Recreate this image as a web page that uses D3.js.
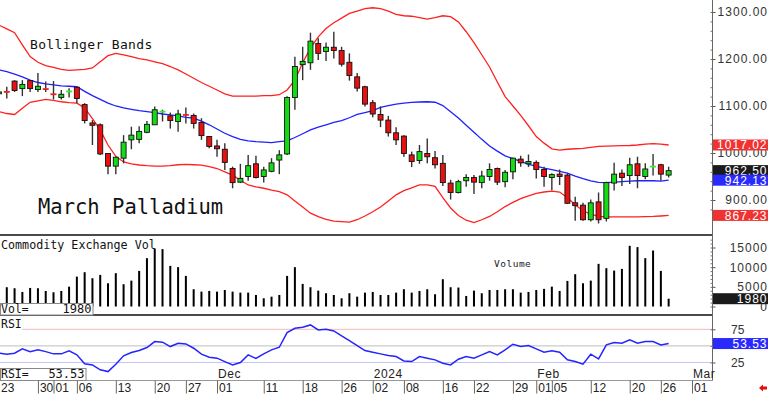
<!DOCTYPE html>
<html>
<head>
<meta charset="utf-8">
<script src="https://cdn.jsdelivr.net/npm/d3@7"></script>
<style>
  body { margin: 0; background: #fff; }
  svg { display: block; font-family: "Liberation Sans", Arial, sans-serif; }
</style>
</head>
<body>
<div id="chart"></div>
<script>
// daily bars, Oct 23 2023 .. Feb 27 2024 (trading-day index 0..86)
const opens = [1126,1131,1153,1137,1154,1135,1137,1126,1118,1130,
  1140,1103,1064,1060,999,972,989,1028,1029,1044,
  1060,1087,1079,1067,1082,1080,1065,1035,1015,1008,
  967,938,950,977,950,961,985,998,1118,1188,
  1192,1233,1216,1225,1218,1193,1162,1141,1107,1082,
  1070,1043,1036,996,984,999,990,978,936,916,
  941,948,937,950,967,939,960,987,977,980,
  965,948,955,953,894,889,858,896,861,936,
  957,952,977,950,970,975,953];
const highs = [1140,1141,1155,1155,1155,1170,1152,1153,1134,1138,
  1141,1106,1070,1063,999,992,1038,1056,1057,1068,
  1099,1092,1086,1092,1097,1084,1074,1036,1028,1021,
  971,977,996,994,971,989,1006,1121,1205,1226,
  1256,1244,1235,1258,1226,1212,1170,1143,1113,1099,
  1079,1055,1038,1003,1017,1031,1004,996,943,943,
  955,953,962,978,969,964,990,994,997,984,
  971,957,965,957,907,894,901,916,939,979,
  965,990,992,978,998,977,971];
const lows = [1113,1116,1130,1121,1130,1130,1130,1114,1114,1118,
  1106,1063,1017,996,955,955,978,1008,1021,1042,
  1060,1067,1052,1045,1063,1052,1028,1010,992,964,
  925,936,941,946,937,959,955,996,1092,1155,
  1177,1198,1196,1201,1184,1154,1131,1099,1076,1055,
  1035,1017,992,970,977,978,967,930,901,914,
  928,913,925,941,932,927,944,971,970,946,
  928,921,932,892,856,856,854,850,854,920,
  930,934,925,944,952,941,948];
const closes = [1130,1130,1133,1146,1137,1142,1136,1125,1125,1131,
  1116,1069,1059,998,972,991,1023,1038,1046,1061,
  1092,1088,1069,1083,1081,1063,1037,1014,1009,980,
  937,946,973,948,964,979,996,1118,1184,1195,
  1238,1212,1225,1218,1189,1165,1138,1104,1083,1070,
  1043,1028,999,982,1003,992,975,937,916,939,
  948,938,951,965,938,959,989,979,982,965,
  950,954,950,893,888,858,894,858,937,955,
  948,975,952,966,971,955,962.50];

const upperBand = [1272,1264,1256,1230,1205,1193,1186,1182,1178,1176,
  1177,1178,1181,1194,1207,1212,1209,1205,1201,1198,
  1194,1190,1184,1177,1168,1159,1150,1142,1134,1126,
  1121,1121,1121,1121,1122,1122,1124,1134,1155,1192,
  1223,1247,1265,1277,1287,1297,1302,1307,1309,1307,
  1302,1295,1292,1291,1288,1285,1288,1292,1290,1279,
  1258,1235,1209,1183,1151,1120,1100,1080,1058,1035,
  1021,1009,1006,1008,1009,1010,1012,1014,1014.5,1015,
  1015.6,1016,1017,1019,1020,1019,1017.02];
const middleBand = [1177,1173,1168,1162,1155,1150,1147,1145,1143,1142,
  1141,1131,1122,1114,1106,1100,1096,1093,1090,1088,
  1086,1083,1081,1079,1076,1074,1068,1060,1051,1042,
  1035,1029,1026,1024,1023,1022,1024,1026,1033,1041,
  1049,1055,1060,1065,1069,1075,1082,1086,1090,1097,
  1101,1104,1106,1107.5,1108.5,1109,1108,1101,1088,1074.5,
  1059,1044,1029,1015,1004,994,988,982,976,972,
  968,964.5,961,957,951,945.5,940.5,937.5,937,938,
  939,940,941,941,941,940,942.13];
const lowerBand = [1088,1084,1082,1095,1108,1111,1114,1112,1109,1107,
  1106,1096,1073,1049,1017,993,981,977,974.5,973,
  972,972,973,975,976,975,974,971,967,960,
  953,942,932,928,925,921,918,911,898,885,
  872,864.5,859,855,854,853,858,866,875,885,
  898,911,920,926,932,932,929,905,883,867,
  857,852,858,865,875,886,895,903,909,914,
  917,919,917,905,890,877,870,865,864,864,
  864,864,864,864.5,865,866,867.23];

const volumes = [4500,4900,4640,3700,4720,4640,3950,3620,3950,5050,
  7600,8720,7190,8030,5900,8470,5660,6580,9050,12290,
  14740,14590,10330,10000,7780,4390,3780,3950,3780,4200,
  3780,3530,3530,2930,2090,2500,2930,7780,10000,5740,
  4900,4030,3370,2930,2090,3370,2500,3530,3700,2930,
  2930,3530,4390,3530,3950,4390,3110,6940,4900,4820,
  2680,4030,3370,4200,4200,4390,4390,3530,3700,4200,
  4480,5050,3950,6500,8210,5900,6580,10840,9740,9130,
  9560,15430,15100,12290,14230,9050,1980];

const rsiValues = [39,37.5,39,45.5,41.4,44,41.4,38,38,42.5,
  36.5,23,21.4,14,11.3,22.4,35,40,43,47.5,
  56.5,55.6,49,54,53,46.5,37.5,33,31.5,26.4,
  21.4,25,36.5,31,38,44,48,70,76.6,78,
  81.6,74,75,72.6,65,58,50.5,43,40.5,38,
  35.4,34,27.4,26.4,34,31.5,29,24,21.4,30,
  34,31.5,36.5,41.4,36.5,44,52.5,49,50.5,45.5,
  40.5,42.5,40.5,29,26.4,22.4,37.5,30.4,51.5,55,
  54,59,54,56.5,56.5,51.5,53.53];

const dayTickIndex = [0,5,7,10,15,20,24,28,34,39,44,48,52,57,61,66,69,71,76,81,85,89];
const dayTickLabels = ['23','30','01','06','13','20','27','01','11','18','26','02','08','16','22','29','01','05','12','20','26','01'];
const monthTickIndex = [28,48,69,89];
const monthTickLabels = ['Dec','2024','Feb','Mar'];
const priceTicks = [900,1000,1100,1200,1300];
const volumeTicks = [0,5000,10000,15000];
const rsiTicks = [25,75];

const width = 768, height = 397;
const axisX = 712.5;
const mono = '"DejaVu Sans Mono", monospace';

const svg = d3.select('#chart').append('svg')
  .attr('width', width)
  .attr('height', height);

const x = d3.scaleLinear().domain([0, 89]).range([-1, 692]);
const y = d3.scaleLinear().domain([900, 1300]).range([200, 12]);
const yVol = d3.scaleLinear().domain([0, 15000]).range([306.5, 247.5]);
const yRsi = d3.scaleLinear().domain([25, 75]).range([362.5, 329.3]);

const defs = svg.append('defs');
[['clipMain', 0, 234], ['clipVol', 236, 314], ['clipRsi', 316, 380]].forEach(c => {
  defs.append('clipPath').attr('id', c[0])
    .append('rect').attr('x', 0).attr('y', c[1]).attr('width', axisX).attr('height', c[2] - c[1]);
});

// ---- price panel
const main = svg.append('g').attr('clip-path', 'url(#clipMain)');

const line = d3.line().x((d, i) => x(i));
const bands = [[upperBand, '#ff2020'], [middleBand, '#2020ff'], [lowerBand, '#ff2020']];
bands.forEach(b => {
  main.append('path')
    .attr('d', line.y(d => y(d))(b[0]))
    .attr('fill', 'none')
    .attr('stroke', b[1])
    .attr('stroke-width', 1.3);
});

const idx = d3.range(opens.length);
const candle = main.selectAll('.candle')
  .data(idx)
  .join('g')
  .classed('candle', true);

candle.append('line')
  .attr('x1', i => x(i)).attr('x2', i => x(i))
  .attr('y1', i => y(highs[i])).attr('y2', i => y(lows[i]))
  .attr('stroke', '#333')
  .attr('stroke-width', 1.4);

const isDoji = i => Math.abs(y(opens[i]) - y(closes[i])) < 1.5;

candle.filter(i => !isDoji(i)).append('rect')
  .attr('x', i => x(i) - 2.5)
  .attr('y', i => y(Math.max(opens[i], closes[i])))
  .attr('width', 5)
  .attr('height', i => Math.abs(y(opens[i]) - y(closes[i])))
  .attr('fill', i => closes[i] >= opens[i] ? '#14dc14' : '#e81010')
  .attr('stroke', '#111')
  .attr('stroke-width', 0.9);

candle.filter(isDoji).append('line')
  .attr('x1', i => x(i) - 3).attr('x2', i => x(i) + 3)
  .attr('y1', i => y(closes[i])).attr('y2', i => y(closes[i]))
  .attr('stroke', i => closes[i] >= opens[i] ? '#30f030' : '#f02020')
  .attr('stroke-width', 1.8);

svg.append('text')
  .attr('x', 30).attr('y', 48.5)
  .style('font-family', mono).style('font-size', '13px').style('letter-spacing', '0.35px')
  .attr('fill', '#111')
  .text('Bollinger Bands');

svg.append('text')
  .attr('x', 38).attr('y', 214)
  .style('font-family', mono).style('font-size', '20.5px')
  .attr('fill', '#111')
  .text('March Palladium');

// ---- volume panel
const vol = svg.append('g').attr('clip-path', 'url(#clipVol)');
vol.selectAll('rect')
  .data(volumes)
  .join('rect')
  .attr('x', (d, i) => x(i) - 1)
  .attr('y', d => yVol(d))
  .attr('width', 2)
  .attr('height', d => yVol(0) - yVol(d))
  .attr('fill', '#000');

svg.append('text')
  .attr('x', 1).attr('y', 248.5)
  .style('font-family', mono).style('font-size', '11.7px')
  .attr('fill', '#111')
  .text('Commodity Exchange Vol');

svg.append('text')
  .attr('x', 494).attr('y', 267)
  .style('font-family', mono).style('font-size', '9.5px').style('letter-spacing', '0.5px')
  .attr('fill', '#222')
  .text('Volume');

// ---- RSI panel
const rsi = svg.append('g').attr('clip-path', 'url(#clipRsi)');
rsi.append('line').attr('x1', 22).attr('x2', axisX).attr('y1', yRsi(75)).attr('y2', yRsi(75))
  .attr('stroke', '#f6b8b8').attr('stroke-width', 1);
rsi.append('line').attr('x1', 0).attr('x2', axisX).attr('y1', yRsi(50)).attr('y2', yRsi(50))
  .attr('stroke', '#bdbdbd').attr('stroke-width', 1);
rsi.append('line').attr('x1', 0).attr('x2', axisX).attr('y1', yRsi(25)).attr('y2', yRsi(25))
  .attr('stroke', '#c4c4f6').attr('stroke-width', 1);

rsi.append('path')
  .attr('d', line.y(d => yRsi(d))(rsiValues))
  .attr('fill', 'none')
  .attr('stroke', '#2424ff')
  .attr('stroke-width', 1.5);

svg.append('text')
  .attr('x', 1).attr('y', 327.5)
  .style('font-family', mono).style('font-size', '11.5px')
  .attr('fill', '#111')
  .text('RSI');

// ---- panel separators and frame
[235, 315].forEach(yy => {
  svg.append('line').attr('x1', 0).attr('x2', axisX).attr('y1', yy).attr('y2', yy)
    .attr('stroke', '#4a4a4a').attr('stroke-width', 2);
});
svg.append('line').attr('x1', 0).attr('x2', axisX).attr('y1', 380.5).attr('y2', 380.5)
  .attr('stroke', '#999').attr('stroke-width', 1);
svg.append('line').attr('x1', axisX).attr('x2', axisX).attr('y1', 0).attr('y2', 380.5)
  .attr('stroke', '#666').attr('stroke-width', 1);

// value boxes at bottom-left of volume and RSI panels
function infoBox(y0, y1, w, label, value) {
  svg.append('rect').attr('x', 0.5).attr('y', y0).attr('width', w).attr('height', y1 - y0)
    .attr('fill', '#fff').attr('stroke', '#888').attr('stroke-width', 1);
  svg.append('text').attr('x', 1).attr('y', y1 - 2.5)
    .style('font-family', mono).style('font-size', '11.5px').attr('fill', '#111')
    .text(label);
  svg.append('text').attr('x', w - 1).attr('y', y1 - 2.5).attr('text-anchor', 'end')
    .style('font-family', mono).style('font-size', '12px').attr('fill', '#111')
    .text(value);
}
infoBox(303.5, 315, 92.5, 'Vol=', d3.format('d')(volumes[volumes.length - 1]));
infoBox(368.5, 380.5, 85.5, 'RSI=', d3.format('.2f')(rsiValues[rsiValues.length - 1]));

// ---- bottom date axis
const xAxis = svg.append('g').attr('transform', 'translate(0,380.5)')
  .call(d3.axisBottom(x).tickValues(dayTickIndex).tickSize(13)
    .tickFormat((d, i) => dayTickLabels[i]));
xAxis.select('.domain').remove();
xAxis.selectAll('.tick line').attr('stroke', '#666');
xAxis.selectAll('.tick text')
  .attr('x', 1.5).attr('y', 11.5).attr('dy', null)
  .attr('text-anchor', 'start')
  .style('font-family', '"Liberation Sans", Arial, sans-serif')
  .style('font-size', '12px')
  .attr('fill', '#222');

svg.append('g').selectAll('text')
  .data(monthTickIndex)
  .join('text')
  .attr('x', d => x(d) + 1)
  .attr('y', 378)
  .style('font-size', '12px').style('letter-spacing', '0.6px')
  .attr('fill', '#222')
  .text((d, i) => monthTickLabels[i]);

// ---- right axes
function rightAxis(scale, ticks, fmt, minor, alignEnd) {
  const g = svg.append('g').attr('transform', `translate(${axisX},0)`)
    .call(d3.axisRight(scale).tickValues(ticks).tickFormat(fmt).tickSize(3));
  g.select('.domain').remove();
  g.selectAll('.tick line').attr('stroke', '#555');
  const t = g.selectAll('.tick text')
    .style('font-family', '"Liberation Sans", Arial, sans-serif')
    .style('font-size', '12px')
    .attr('fill', '#333');
  if (alignEnd) t.attr('x', 55.5).attr('text-anchor', 'end').style('letter-spacing', '1px');
  else t.attr('x', 18.5);
  const m = svg.append('g').attr('transform', `translate(${axisX},0)`)
    .call(d3.axisLeft(scale).tickValues(minor).tickFormat('').tickSize(2));
  m.select('.domain').remove();
  m.selectAll('.tick line').attr('stroke', '#777');
}
rightAxis(y, priceTicks, d3.format('.2f'), d3.range(880, 1320, 20), true);
rightAxis(yVol, volumeTicks, d3.format('d'), d3.range(0, 18000, 1000), true);
rightAxis(yRsi, rsiTicks, d3.format('d'), [0, 25, 50, 75, 100].filter(v => v >= 10 && v <= 85), false);

// last-value markers on the right axis
function marker(yPos, text, fill) {
  svg.append('rect').attr('x', axisX + 0.5).attr('y', yPos - 5.5).attr('width', width - axisX).attr('height', 11)
    .attr('fill', fill);
  svg.append('text').attr('x', 767.5).attr('y', yPos).attr('dy', '0.36em').attr('text-anchor', 'end')
    .style('font-size', '12px').style('letter-spacing', '1px')
    .attr('fill', '#fff')
    .text(text);
}
const last = opens.length - 1;
marker(y(upperBand[last]), d3.format('.2f')(upperBand[last]), '#f03232');
marker(y(closes[last]), d3.format('.2f')(closes[last]), '#1a1a1a');
marker(y(middleBand[last]), d3.format('.2f')(middleBand[last]), '#2a2aff');
marker(y(lowerBand[last]), d3.format('.2f')(lowerBand[last]), '#f03232');
marker(yVol(volumes[last]), d3.format('d')(volumes[last]), '#1a1a1a');
marker(yRsi(rsiValues[last]), d3.format('.2f')(rsiValues[last]), '#2a2aff');

// small red arrow, bottom right
svg.append('path')
  .attr('d', 'M759,388 L763,384.5 L763,386.5 L767,386.5 L767,389.5 L763,389.5 L763,391.5 Z')
  .attr('fill', '#e01010');
</script>
</body>
</html>
